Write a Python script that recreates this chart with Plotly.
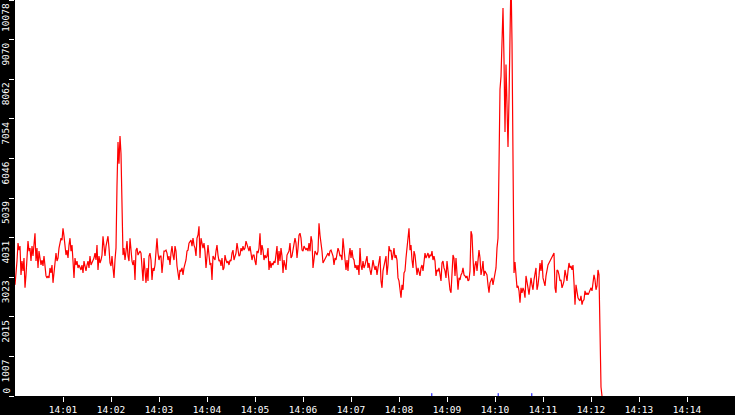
import pandas as pd
import plotly.graph_objects as go

# samples every 1.25 s starting 14:00:00
seg_1400 = [2829, 3082, 3435, 3890, 3713, 3814, 3082, 3435, 3183, 3511,
            2753, 3082, 3587, 3941, 3688, 3764, 3435, 3814, 3562, 3966,
            4143, 3435, 3764, 3259, 3688, 3511, 3334, 3461, 3309, 3562,
            3259, 3056, 3006, 3056, 3006, 3259, 3132, 3334, 2880, 3082,
            3334, 3637, 3435, 3511, 3764, 3941, 4016, 3966, 4269, 4067,
            3840, 3587, 3713, 3511, 3840, 4016, 3688, 3840, 3435, 3006,
            3511, 3334, 3435, 3259, 3334, 3259, 3208, 3334, 3132, 3435,
            3259, 3183, 3334, 3435, 3259, 3562, 3334, 3385, 3461, 3511,
            3637, 3461, 3840, 3208, 3562, 3385, 3461, 3587, 4067, 3840,
            3562, 3814, 3941, 4067, 3764, 3385, 3309, 3562, 3259, 3006,
            3461, 3764,
            5355, 6466, 5911, 6618, 6163, 5077,
            3587, 3764, 3461, 3688, 3941, 3562, 3435, 4016, 3637, 3435, 3334]

seg_1402 = [3461, 2955, 3713, 3764, 3587, 3637, 3688, 3637, 3334, 2930,
            3511, 3183, 2880, 3259, 2930, 3562, 3637, 3461, 2955, 3259,
            3183, 3334, 3840, 4016, 3637, 3461, 3562, 3562, 3132, 3334,
            3688, 3688, 3713, 3637, 3461, 3562, 3334, 3637, 3814, 3587,
            3461, 3814, 3688, 3309, 3056, 2955, 3208, 3183, 3259, 3082,
            3259, 3334, 3461, 3688, 3713, 3890, 3941, 3966, 3814, 4016,
            3840, 3764, 3562, 4016, 4092, 4319, 3511, 4016, 3890, 3764,
            3890, 3688, 3259, 3511, 3840, 3587, 3334, 3385, 2955, 3562,
            3511, 3461, 3688, 3840, 3587, 3435, 3461, 3309, 3511, 3208,
            3259, 3587, 3461, 3385, 3435, 3334, 3461, 3435, 3637, 3713,
            3461, 3587, 3637, 3890, 3764, 3562, 3587, 3764, 3688, 3814,
            3713, 3764, 3941, 3840, 3814, 3688, 3814, 3637, 3461, 3587]

seg_1405 = [3587, 3435, 3334, 3688, 3637, 3764, 4143, 3587, 3840, 3713,
            3461, 3587, 3511, 3562, 3764, 3208, 3435, 3259, 3385, 3334,
            3435, 3385, 3562, 3814, 3334, 3688, 3435, 3764, 3562, 3132,
            3461, 3334, 3208, 3587, 3637, 3688, 3890, 3511, 3562, 3764,
            3941, 4016, 3890, 3511, 3764, 4092, 4143, 4016, 3713, 3688,
            3814, 3764, 3713, 3764, 3688, 3890, 3688, 4067, 3941, 3259,
            3587, 3688, 3637, 3587, 3688, 4395, 4092, 3941, 3688, 3385,
            3435, 3461, 3511, 3587, 3637, 3562, 3688, 3713, 3637, 3562,
            3334, 3511, 3461, 3587, 3764, 3688, 3562, 3587, 3461, 4016,
            3688, 3385, 3208, 3461, 3183, 3562, 3764, 3511, 3713, 3511,
            3461, 3259, 3334, 3208, 3334, 3082, 3764, 3334, 3208, 3435,
            3259, 3334, 3461, 3562, 3259, 3385, 3208, 3082, 3259, 3461,
            3309, 3208, 3309, 3082, 3259]

seg_1407 = [3435, 3562, 2930, 2753, 3183, 3334, 3511, 3562, 3082, 3334,
            3814, 3688, 3713, 3461, 3587, 3764, 3511, 3587, 3461, 3006,
            2930, 2753, 2500, 2829, 2703, 3132, 3183, 3511, 3764, 3941,
            4269, 3713, 3840, 3461, 3259, 3688, 3587, 3334, 3082, 3259,
            3183, 3056, 3259, 3334, 3183, 3435, 3637, 3511, 3587, 3637,
            3511, 3587, 3562, 3688, 3461, 3562, 3435, 3056, 3208, 3183,
            3259, 3132, 2930, 3385, 3435, 3259, 3183, 3006, 3435, 3183,
            2829, 2703, 2627, 3183, 3587, 3511, 3056, 3511, 2955, 2703,
            3006, 2955, 3082, 3132, 3259, 3082, 3056, 3006, 3056, 2930,
            2955, 3183, 4193, 4092, 3511, 3056, 3334, 3435, 3183, 3587,
            3713, 3511, 3082, 3208, 3435, 3056, 3183, 3132, 3082, 2829,
            2627, 2880, 2955, 3006, 2829, 2955, 3056, 3259, 3764, 4016]

seg_spike = [5860, 7805, 8134, 8942, 9877, 8563, 6719, 8437, 7553, 6340,
             7553, 8866, 10700, 9018, 5860]

seg_1410 = [3132, 3410, 3132, 2753, 2804, 2677, 2374, 2753, 2627, 2753,
            2677, 2500, 3056, 2829, 2753, 2576, 2753, 3006, 2829, 2703,
            2955, 3183, 3259, 2703, 2829, 3056, 3385, 3183, 3461, 3006,
            2880, 2804, 3056, 3208, 3334, 3385, 3435, 3461, 3511, 3562,
            3637, 2753, 2627, 3208, 3183, 3082, 2930, 2955, 2753, 2829,
            2930, 3208, 3082, 2930, 3183, 3385, 3259, 3309, 3208, 3334,
            2880, 2324, 2829, 2576, 2500, 2450, 2425, 2551, 2324, 2425,
            2450, 2677, 2576, 2627, 2576, 2627, 2703, 2753, 2677, 2930,
            3082, 2955, 2703, 2804, 3208, 3082]

seg_end = [1692, 227, 0]

events = ["2024-01-01 14:08:41", "2024-01-01 14:10:04", "2024-01-01 14:10:46"]

y_ticks = [0, 1007, 2015, 3023, 4031, 5039, 6046, 7054, 8062, 9070, 10078]
x_ticks = ["14:%02d" % m for m in range(1, 15)]

values = seg_1400 + seg_1402 + seg_1405 + seg_1407 + seg_spike + seg_1410 + seg_end
times = pd.date_range("2024-01-01 14:00:00", periods=len(values), freq="1250ms")

font = dict(family="DejaVu Sans Mono", size=9.5, color="white")

fig = go.Figure()
fig.add_trace(go.Scatter(x=times, y=values, mode="lines",
                         line=dict(color="#ff0000", width=1.2),
                         hoverinfo="skip"))
fig.add_trace(go.Scatter(x=pd.to_datetime(events), y=[0] * len(events), mode="markers",
                         marker=dict(symbol="line-ns-open", size=4, color="#0000ff",
                                     line=dict(width=1, color="#0000ff")),
                         hoverinfo="skip"))

for v in y_ticks:
    fig.add_annotation(x=0, xref="paper", y=v, yref="y", text=str(v),
                       textangle=-90, showarrow=False, font=font, borderpad=0,
                       xanchor="right", xshift=-3,
                       yanchor="bottom" if v == 0 else "top",
                       yshift=1 if v == 0 else -2)

fig.update_layout(
    width=735, height=415,
    paper_bgcolor="black", plot_bgcolor="white",
    margin=dict(l=15, r=0, t=0, b=17),
    showlegend=False,
    xaxis=dict(type="date", range=["2024-01-01 14:00:00", "2024-01-01 14:15:00"],
               tickvals=["2024-01-01 %s" % t for t in x_ticks], ticktext=x_ticks,
               ticks="outside", ticklen=5, tickcolor="white", tickwidth=1,
               tickfont=font, showgrid=False, zeroline=False, showline=False),
    yaxis=dict(range=[0, 10078], tickvals=y_ticks, showticklabels=False,
               ticks="outside", ticklen=5, tickcolor="white", tickwidth=1,
               showgrid=False, zeroline=False, showline=False),
)

# drop the page's default body margin so the chart fills the window
fig.write_html("out.html", config={"displayModeBar": False},
               post_script="document.body.style.margin='0';")
